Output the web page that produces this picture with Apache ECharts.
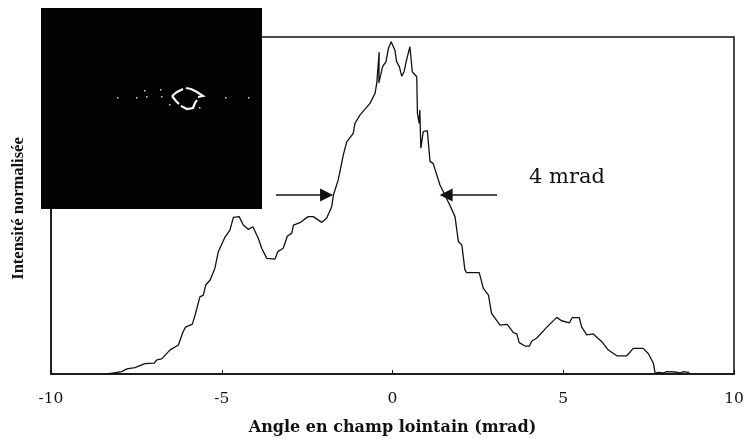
<!DOCTYPE html>
<html><head><meta charset="utf-8">
<style>html,body{margin:0;padding:0;background:#fff}#c{width:743px;height:439px}</style>
<script src="https://cdn.jsdelivr.net/npm/echarts@6/dist/echarts.min.js"></script>
</head><body><div id="c"></div>
<script>
const angleMrad = [-8.35,-7.93,-7.78,-7.54,-7.25,-6.98,-6.90,-6.76,-6.52,-6.27,-6.13,-6.06,-5.86,-5.78,-5.64,-5.54,-5.47,-5.34,-5.20,-5.10,-4.90,-4.76,-4.66,-4.49,-4.37,-4.22,-4.09,-3.93,-3.83,-3.68,-3.44,-3.36,-3.20,-3.08,-2.95,-2.90,-2.71,-2.47,-2.32,-2.07,-1.93,-1.78,-1.73,-1.59,-1.49,-1.44,-1.34,-1.15,-1.10,-0.95,-0.66,-0.51,-0.46,-0.39,-0.40,-0.29,-0.19,-0.12,-0.04,0.07,0.12,0.20,0.27,0.34,0.40,0.51,0.58,0.71,0.73,0.78,0.80,0.83,0.90,1.02,1.10,1.19,1.39,1.63,1.68,1.83,1.93,2.03,2.12,2.17,2.54,2.66,2.81,2.90,3.15,3.36,3.54,3.64,3.71,3.88,4.01,4.08,4.22,4.52,4.81,4.95,5.18,5.26,5.47,5.54,5.69,5.88,6.13,6.32,6.57,6.86,7.05,7.34,7.49,7.64,7.69,7.77,7.93,8.03,8.27,8.42,8.52,8.66,8.71];
const intensity = [0,0.7,1.5,1.9,3.1,3.2,4.2,4.5,7.1,8.6,12.6,13.9,14.8,17.5,22.9,23.4,26.4,27.9,31.4,36.3,40.7,42.7,46.5,46.7,44.2,42.9,43.7,40.3,37.3,34.3,34.1,36.3,37.3,40.9,41.8,44.2,44.9,46.7,46.7,45.0,46.2,49.6,53.1,57.6,62.5,65.0,68.9,71.4,74.4,76.9,80.3,83.3,86.4,95.5,86.4,91.2,92.7,96.6,98.6,96.1,92.7,91.2,88.4,89.7,92.7,97.1,89.7,88.2,77.4,74.4,78.3,67.0,71.9,72.2,63.0,62.5,56.1,51.1,50.1,46.7,39.3,38.3,30.9,30.1,30.1,25.4,23.4,18.0,14.5,14.7,12.3,11.9,9.3,8.3,8.3,9.8,10.6,13.9,16.8,15.8,15.2,16.7,16.7,13.9,11.6,11.9,9.6,7.1,5.4,5.4,7.6,7.6,6.1,3.2,0.2,0.5,0.3,0.7,0.6,0.3,0.7,0.5,0];
const xTicks = [-10,-5,0,5,10];
const xTitle = 'Angle en champ lointain (mrad)';
const yTitle = 'Intensité normalisée';
const widthLabel = '4 mrad';
const leftArrow = [-3.41,-1.93], rightArrow = [3.06,1.57], arrowLevel = 53.1;

const chart = echarts.init(document.getElementById('c'), null, {renderer:'canvas'});
const curve = angleMrad.map((x,i)=>[x,intensity[i]]);
const ringUpper = [[172,96],[177,92],[183,89]];
const ringTop = [[186,88],[191,89],[197,92],[203,96],[198,97]];
const ringLower = [[197,100],[195,103],[193,108],[187,109],[181,106]];
const ringLeft = [[179,104],[176,101],[172,96]];
const specks = [[144,90],[146,96],[136,97],[117,97],[160,89],[161,96],[169,104],[225,97],[248,97],[199,107]];
chart.setOption({
  animation:false,
  backgroundColor:'#fff',
  grid:{left:51,right:9,top:37,bottom:65,outerBoundsMode:'none',containLabel:false,show:true,borderColor:'#111',borderWidth:1.5,backgroundColor:'transparent'},
  xAxis:{type:'value',min:-10,max:10,interval:5,
    name:xTitle,nameLocation:'middle',nameGap:46,
    nameTextStyle:{fontFamily:'DejaVu Serif',fontWeight:'bold',fontSize:16,color:'#111'},
    axisLine:{onZero:false,lineStyle:{color:'#111',width:1.5}},
    axisTick:{inside:true,length:4,lineStyle:{color:'#111',width:1}},
    axisLabel:{fontFamily:'DejaVu Serif',fontSize:15.5,color:'#111',margin:17,
      formatter:v=>xTicks.includes(v)?String(v):''},
    splitLine:{show:false}},
  yAxis:{type:'value',min:0,max:100,
    name:yTitle,nameLocation:'middle',nameGap:24,
    nameTextStyle:{fontFamily:'Liberation Serif',fontWeight:'bold',fontSize:16.5,color:'#111',padding:[0,6,0,0]},
    axisLine:{show:true,onZero:false,lineStyle:{color:'#111',width:1.5}},
    axisTick:{show:false},axisLabel:{show:false},splitLine:{show:false}},
  series:[{type:'line',data:curve,showSymbol:false,smooth:false,
    lineStyle:{color:'#111',width:1.3},
    markLine:{silent:true,animation:false,symbol:['none','triangle'],symbolSize:[13,13],
      label:{show:false},
      lineStyle:{color:'#111',width:1.5,type:'solid'},
      data:[
        [{coord:[leftArrow[0],arrowLevel]},{coord:[leftArrow[1],arrowLevel]}],
        [{coord:[rightArrow[0],arrowLevel]},{coord:[rightArrow[1],arrowLevel]}]
      ]}}],
  graphic:[
    {type:'rect',z:50,shape:{x:41,y:8,width:221,height:201},style:{fill:'#030303'}},
    ...[ringUpper,ringTop,ringLower,ringLeft].map(pts=>({type:'polyline',z:51,shape:{points:pts},style:{stroke:'#f4f4f4',fill:'none',lineWidth:2.2}})),
    ...specks.map(p=>({type:'rect',z:51,shape:{x:p[0],y:p[1],width:1.5,height:1.5},style:{fill:'#cfcfcf'}})),
    {type:'text',z:51,left:529,top:167,style:{text:widthLabel,fontFamily:'DejaVu Serif',fontSize:21,fill:'#111'}}
  ]
});
</script></body></html>
